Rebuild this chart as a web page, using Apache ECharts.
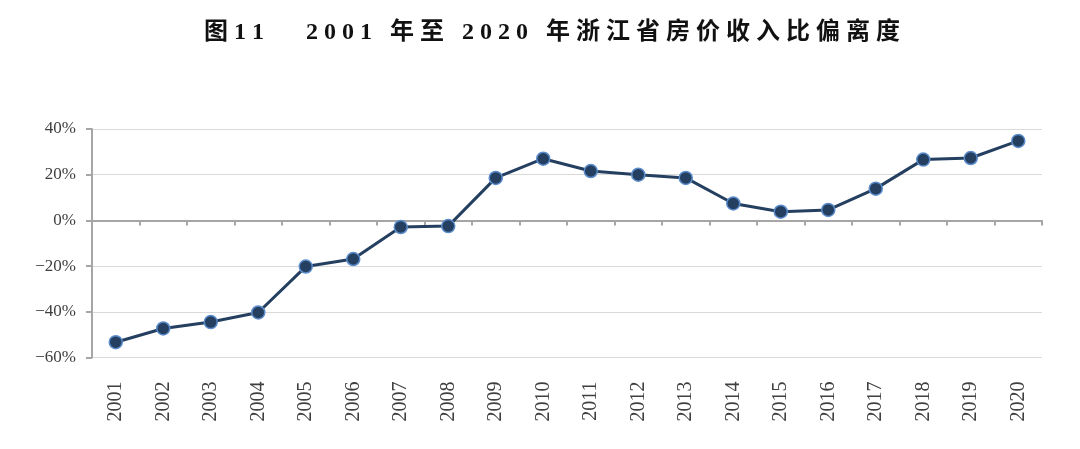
<!DOCTYPE html>
<html>
<head>
<meta charset="utf-8">
<script src="https://cdn.jsdelivr.net/npm/echarts@6/dist/echarts.min.js"></script>
<style>
html,body{margin:0;padding:0;background:#fff;}
#main{width:1080px;height:449px;}
</style>
</head>
<body>
<div id="main"></div>
<script>
const titleText = "图11   2001 年至 2020 年浙江省房价收入比偏离度";
const years = ["2001","2002","2003","2004","2005","2006","2007","2008","2009","2010","2011","2012","2013","2014","2015","2016","2017","2018","2019","2020"];
const deviation = [-53.3,-47.3,-44.5,-40.3,-20.2,-16.9,-2.9,-2.5,18.6,27.0,21.6,20.0,18.6,7.4,3.8,4.6,13.9,26.6,27.3,34.8];
const yTicks = {min:-60, max:40, interval:20};

// spread title characters (letter spacing)
const spacedTitle = Array.from(titleText).join('\u2005');

const chart = echarts.init(document.getElementById('main'));
chart.setOption({
  backgroundColor:'#ffffff',
  animation:false,
  title:{
    text:spacedTitle,
    left:199,
    top:16,
    textStyle:{fontFamily:'"Liberation Serif","Noto Sans CJK SC",serif',fontSize:24,fontWeight:'bold',color:'#111'}
  },
  grid:{left:92,right:38,top:129,bottom:91.5,containLabel:false,outerBoundsMode:'none'},
  xAxis:[{
    type:'category',
    data:years,
    boundaryGap:true,
    position:'bottom',
    axisLine:{show:false,onZero:false},
    axisTick:{show:false},
    axisLabel:{rotate:90,margin:24,fontFamily:'"Liberation Serif",serif',fontSize:20,color:'#404040'},
    splitLine:{show:false}
  },{
    type:'category',
    data:years,
    boundaryGap:true,
    position:'bottom',
    axisLine:{show:true,onZero:true,lineStyle:{color:'#a6a6a6',width:2}},
    axisTick:{show:true,length:5,lineStyle:{color:'#a6a6a6',width:2}},
    axisLabel:{show:false},
    splitLine:{show:false}
  }],
  yAxis:{
    type:'value',
    min:yTicks.min,max:yTicks.max,interval:yTicks.interval,
    axisLine:{show:true,lineStyle:{color:'#a6a6a6',width:2}},
    axisTick:{show:true,length:6,lineStyle:{color:'#a6a6a6',width:2}},
    axisLabel:{margin:16,fontFamily:'"Liberation Serif",serif',fontSize:17,color:'#404040',
      formatter:v=>(v<0?'\u2212'+(-v):v)+'%'},
    splitLine:{show:true,lineStyle:{color:'#d9d9d9',width:1}}
  },
  series:[{
    type:'line',
    xAxisIndex:0,
    data:deviation,
    symbol:'circle',
    symbolSize:13,
    lineStyle:{color:'#243f60',width:3},
    itemStyle:{color:'#243f60',borderColor:'#5b8ccc',borderWidth:1.5},
    z:5
  }]
});
</script>
</body>
</html>
